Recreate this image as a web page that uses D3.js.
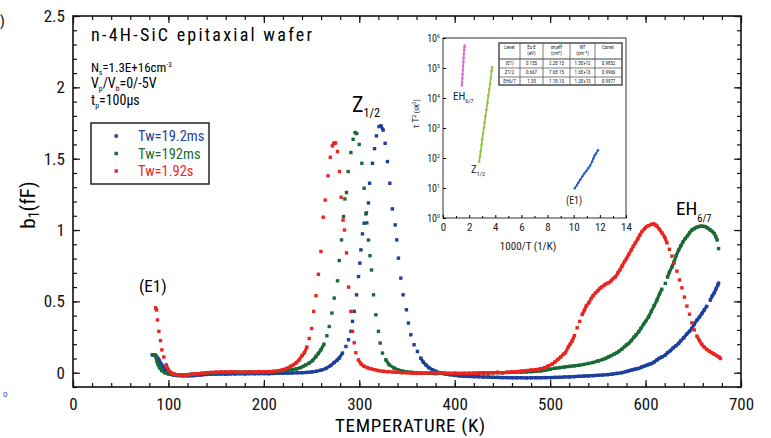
<!DOCTYPE html>
<html>
<head>
<meta charset="utf-8">
<script src="https://cdn.jsdelivr.net/npm/d3@7"></script>
<style>
  body { margin: 0; background: #fff; }
  svg { display: block; }
</style>
</head>
<body>
<div class="chart"></div>
<script>
// series: [temperature K, b1 fF]
var blueData = [[83,0.125],[84.5,0.125],[86,0.12],[87.5,0.115],[89,0.1],[90.5,0.085],[92,0.065],[94.2,0.045],[96,0.025],[97.7,0.009],[100,-0.005],[103,-0.012],[106,-0.017],[110,-0.02],[115,-0.022],[120,-0.022],[125.5,-0.021],[130,-0.018],[135,-0.015],[140,-0.012],[145,-0.01],[150,-0.01],[155,-0.009],[160,-0.01],[165,-0.008],[170,-0.008],[175,-0.007],[180,-0.008],[185,-0.006],[190,-0.007],[195,-0.006],[200,-0.006],[205,-0.007],[210,-0.005],[215,-0.004],[220,-0.004],[225,-0.002],[230,-0.002],[235,0],[240,0],[245,0.002],[250,0.005],[255,0.01],[260,0.018],[265,0.03],[270,0.05],[273.7,0.072],[277,0.09],[279,0.103],[282.4,0.138],[286,0.184],[288.7,0.231],[291.2,0.29],[292.9,0.36],[294.7,0.43],[297.1,0.546],[299.2,0.674],[300.6,0.768],[301.7,0.861],[303.3,0.973],[305.1,1.048],[307.5,1.12],[309.6,1.19],[310.8,1.328],[313.8,1.468],[316,1.57],[318,1.66],[320.7,1.725],[322.8,1.73],[325,1.7],[327.1,1.608],[329.5,1.48],[332,1.328],[334.7,1.148],[337.6,1.036],[339.3,0.931],[341,0.803],[343.5,0.663],[345.9,0.546],[349.4,0.441],[351.5,0.348],[354,0.266],[357.4,0.196],[360.9,0.149],[364.4,0.103],[367,0.075],[369.7,0.056],[373,0.035],[376.6,0.021],[380,0.01],[385,0],[390,-0.008],[395,-0.014],[400,-0.018],[405,-0.022],[410,-0.025],[415,-0.026],[420,-0.027],[425,-0.028],[430,-0.03],[435,-0.03],[440,-0.032],[445,-0.033],[450,-0.034],[455,-0.034],[460,-0.035],[465,-0.035],[470,-0.035],[475,-0.036],[480,-0.035],[485,-0.035],[490,-0.035],[495,-0.034],[500,-0.034],[505,-0.033],[510,-0.032],[515,-0.03],[520,-0.029],[525,-0.027],[530,-0.025],[535,-0.024],[540,-0.022],[545,-0.02],[550,-0.018],[555,-0.016],[560,-0.013],[565,-0.01],[570,-0.005],[575,0],[578.9,0.007],[582,0.013],[585,0.018],[588,0.023],[590,0.027],[592.8,0.03],[596,0.04],[599,0.047],[602,0.055],[604,0.06],[606.7,0.065],[609,0.075],[612,0.09],[614,0.1],[617,0.11],[620.7,0.124],[623,0.14],[626,0.155],[629,0.175],[632,0.19],[634.6,0.205],[637,0.225],[640,0.245],[643,0.27],[646,0.29],[648.5,0.31],[651,0.34],[654,0.37],[656.5,0.39],[659,0.415],[661.5,0.44],[664,0.465],[667.8,0.509],[670,0.54],[672,0.56],[674,0.59],[675.7,0.614],[676.5,0.628]];

var greenData = [[84.7,0.125],[86,0.125],[87,0.11],[88,0.08],[89,0.06],[90.7,0.035],[93,0.015],[96,0],[100,-0.008],[105,-0.012],[110,-0.015],[115,-0.015],[120,-0.013],[125,-0.01],[130,-0.008],[135,-0.005],[140,-0.003],[145,0],[150,0],[155,0.002],[160,0.003],[165,0.002],[170,0.004],[175,0.005],[180,0.003],[185,0.002],[190,0.004],[195,0.003],[200,0.004],[205,0.005],[210,0.007],[215,0.01],[220,0.015],[225,0.018],[230,0.022],[234,0.026],[238,0.035],[241,0.044],[244,0.055],[247.5,0.068],[251,0.085],[254.6,0.114],[257,0.135],[259.8,0.161],[263,0.2],[266,0.259],[268.5,0.324],[271.3,0.418],[273.7,0.523],[277.2,0.644],[279,0.786],[281.4,0.931],[283.5,1.095],[284.9,1.218],[286.6,1.263],[288.4,1.41],[291.2,1.543],[293.6,1.636],[295.5,1.683],[297.3,1.676],[299.9,1.6],[302.7,1.468],[305.1,1.293],[306.9,1.113],[307.9,1.05],[309.6,0.93],[311.2,0.82],[312.8,0.72],[314.9,0.546],[317.4,0.406],[320.1,0.29],[321.9,0.208],[324.3,0.138],[327.8,0.091],[331.3,0.056],[336.5,0.033],[340,0.022],[345,0.012],[350,0.006],[355,0.003],[360,0],[365,-0.002],[370,-0.004],[375,-0.005],[380,-0.006],[385,-0.005],[390,-0.006],[395,-0.007],[400,-0.006],[405,-0.006],[410,-0.005],[415,-0.004],[420,-0.005],[425,-0.003],[430,-0.002],[435,-0.001],[440,0],[445,0.001],[450,0],[455,0.002],[460,0.003],[465,0.004],[470,0.004],[475,0.006],[480,0.008],[485,0.01],[490,0.013],[495,0.018],[500,0.024],[505,0.031],[510,0.036],[515,0.04],[520,0.044],[525,0.048],[530,0.052],[535,0.058],[540,0.065],[545,0.072],[550,0.082],[555,0.093],[558,0.1],[561,0.11],[564,0.12],[567,0.13],[570,0.14],[572,0.15],[575,0.165],[578,0.183],[580,0.195],[582.3,0.205],[585,0.225],[588,0.25],[590,0.265],[592.8,0.287],[595,0.31],[598,0.34],[600,0.36],[603.2,0.392],[606,0.43],[609,0.47],[611.9,0.509],[614.5,0.55],[617,0.585],[620.7,0.626],[623,0.67],[625,0.705],[627.6,0.742],[630,0.78],[632,0.82],[634.6,0.859],[637,0.89],[639,0.915],[641.6,0.941],[644,0.96],[646,0.98],[648.5,1],[651,1.01],[653,1.018],[655.5,1.024],[658,1.027],[660,1.026],[662.5,1.024],[665,1.015],[667.8,1],[670,0.99],[672,0.975],[673.5,0.955],[675,0.93],[676.5,0.87]];

var redData = [[86.5,0.455],[87.6,0.44],[88.5,0.37],[90,0.29],[91.7,0.225],[93.1,0.16],[95.2,0.11],[97.7,0.056],[100,0.02],[103,0],[106,-0.01],[110,-0.015],[115,-0.017],[120,-0.015],[125,-0.01],[130,-0.008],[135,-0.005],[140,0],[145,0.002],[150,0.004],[155,0.005],[160,0.004],[165,0.006],[170,0.005],[175,0.003],[180,0.005],[185,0.006],[190,0.004],[195,0.008],[200,0.006],[205,0.008],[210,0.01],[215,0.014],[220,0.022],[224,0.03],[228,0.045],[231,0.055],[234,0.07],[237,0.09],[240,0.12],[242.5,0.14],[245,0.18],[247.5,0.24],[250,0.31],[252.2,0.43],[254.6,0.54],[257.2,0.69],[259.8,0.85],[262.2,1.09],[264.3,1.21],[267.3,1.38],[269.6,1.51],[271.8,1.59],[273.6,1.61],[275.2,1.61],[277.2,1.55],[279.3,1.41],[281,1.23],[283,1.07],[284.5,1],[286.6,0.84],[288.8,0.6],[291.2,0.43],[292.9,0.29],[294.7,0.21],[296.4,0.14],[299,0.09],[302,0.06],[305,0.045],[308.6,0.035],[312,0.028],[316,0.022],[320,0.015],[325,0.01],[330,0.008],[335,0.005],[340,0.003],[345,0],[350,0],[355,-0.003],[360,-0.004],[365,-0.003],[370,-0.002],[375,0],[380,0],[385,0],[390,-0.002],[395,-0.004],[400,-0.003],[405,-0.005],[410,-0.005],[415,-0.006],[420,-0.004],[425,-0.003],[430,-0.002],[435,0],[440,0],[445,0.002],[450,0],[455,0.003],[460,0.006],[465,0.008],[470,0.012],[475,0.015],[480,0.019],[485,0.022],[490,0.028],[494,0.035],[498,0.047],[502,0.06],[505,0.075],[508,0.093],[511,0.11],[514,0.13],[516,0.14],[519,0.18],[521,0.2],[523,0.222],[525.5,0.26],[528.3,0.315],[531,0.36],[533.5,0.408],[536,0.44],[538,0.47],[540.5,0.49],[543,0.52],[545,0.54],[547.5,0.56],[550,0.575],[552,0.59],[554.4,0.602],[557,0.615],[559,0.625],[561.4,0.63],[564,0.645],[566,0.66],[568.4,0.672],[571,0.7],[573,0.72],[575.3,0.747],[578,0.78],[580,0.8],[582.3,0.829],[585,0.86],[587,0.885],[589.3,0.91],[592,0.94],[594,0.965],[596.3,0.99],[599,1.01],[601,1.025],[603.2,1.031],[606,1.04],[608.5,1.043],[610.5,1.035],[612,1.027],[614.5,1.005],[617.2,0.98],[620,0.95],[622.4,0.91],[625,0.865],[627.6,0.817],[630,0.77],[632.8,0.712],[635.5,0.65],[638.1,0.595],[640.7,0.53],[643.3,0.467],[646,0.41],[648.5,0.35],[651,0.3],[653.8,0.257],[656.5,0.225],[659,0.198],[661.5,0.18],[664.2,0.163],[667,0.15],[669.5,0.14],[672,0.13],[674.5,0.12],[677,0.11],[678.5,0.1]];

var legendLabels = ["Tw=19.2ms", "Tw=192ms", "Tw=1.92s"];
var seriesColors = ["#1d3f9e", "#1b6a36", "#ec2420"];
var xTicks = [0, 100, 200, 300, 400, 500, 600, 700];
var yTicks = [0, 0.5, 1, 1.5, 2, 2.5];

// inset: arrhenius plot, [1000/T, tau*T^2]
var insetEH = [[1.44,2.6e4],[1.46,3.3e4],[1.48,4.5e4],[1.5,6.2e4],[1.52,8.5e4],[1.54,1.15e5],[1.56,1.6e5],[1.58,2.2e5],[1.6,3.0e5],[1.62,3.9e5],[1.64,4.8e5],[1.66,5.6e5]];
var insetZ = [[2.77,76],[2.82,110],[2.88,165],[2.95,280],[3.0,420],[3.06,640],[3.12,1000],[3.18,1500],[3.25,2500],[3.32,4000],[3.4,7000],[3.47,1.2e4],[3.54,1.9e4],[3.6,3.0e4],[3.66,4.8e4],[3.72,8.0e4],[3.75,1.05e5]];
var insetE1 = [[10.08,9.8],[10.25,12.5],[10.35,15],[10.5,19],[10.65,24],[10.8,30],[10.95,36],[11.1,45],[11.25,55],[11.4,75],[11.5,95],[11.6,120],[11.7,140],[11.85,180]];
var insetXTicks = [0, 2, 4, 6, 8, 10, 12, 14];
var insetYTicks = [1, 10, 100, 1e3, 1e4, 1e5, 1e6];
var tableHead = [["Level"], ["Ec-E", "(eV)"], ["\u03c3n,eff", "(cm\u00b2)"], ["NT", "(cm\u207b\u00b3)"], ["Correl."]];
var tableRows = [
  ["(E1)", "0.155", "2.2E-15", "1.3E+12", "0.9852"],
  ["Z1/2", "0.667", "7.6E-15", "1.6E+13", "0.9966"],
  ["EH6/7", "1.35", "1.1E-15", "1.2E+13", "0.9977"]
];

var svgWidth = 771;
var svgHeight = 438;
var NARROW = "'Liberation Sans Narrow', 'Arial Narrow', 'Roboto Condensed', sans-serif";

var margin = { top: 16, right: 30, bottom: 51, left: 73 };
var width = svgWidth - margin.left - margin.right;
var height = svgHeight - margin.top - margin.bottom;

var svg = d3.select(".chart")
  .append("svg")
  .attr("width", svgWidth)
  .attr("height", svgHeight)
  .style("font-family", NARROW);

var chartGroup = svg.append("g")
  .attr("transform", `translate(${margin.left}, ${margin.top})`);

var xScale = d3.scaleLinear().domain([0, 700]).range([0, width]);
var yScale = d3.scaleLinear().domain([-0.1, 2.5]).range([height, 0]);

// axes: ticks point inward on all four sides
function styleAxis(g) {
  g.select(".domain").remove();
  g.selectAll(".tick line").attr("stroke", "#111").attr("stroke-width", 1.2);
  g.selectAll("text").attr("fill", "#111").style("font-family", NARROW).style("font-size", "17px");
}

chartGroup.append("g").attr("transform", `translate(0, ${height})`)
  .call(d3.axisBottom(xScale).tickValues(d3.range(0, 701, 20)).tickSize(-4).tickFormat(""))
  .call(styleAxis);
chartGroup.append("g").attr("transform", `translate(0, ${height})`)
  .call(d3.axisBottom(xScale).tickValues(xTicks).tickSize(-7).tickPadding(11).tickFormat(d3.format("d")))
  .call(styleAxis);
chartGroup.append("g")
  .call(d3.axisTop(xScale).tickValues(d3.range(0, 701, 20)).tickSize(-4).tickFormat(""))
  .call(styleAxis);
chartGroup.append("g")
  .call(d3.axisTop(xScale).tickValues(xTicks).tickSize(-7).tickFormat(""))
  .call(styleAxis);

chartGroup.append("g")
  .call(d3.axisLeft(yScale).tickValues(d3.range(-0.1, 2.51, 0.1)).tickSize(-4).tickFormat(""))
  .call(styleAxis);
chartGroup.append("g")
  .call(d3.axisLeft(yScale).tickValues(yTicks).tickSize(-7).tickPadding(8).tickFormat(d => d === 0 ? "0" : d3.format(".1~f")(d)))
  .call(styleAxis);
chartGroup.append("g").attr("transform", `translate(${width}, 0)`)
  .call(d3.axisRight(yScale).tickValues(d3.range(-0.1, 2.51, 0.1)).tickSize(-4).tickFormat(""))
  .call(styleAxis);
chartGroup.append("g").attr("transform", `translate(${width}, 0)`)
  .call(d3.axisRight(yScale).tickValues(yTicks).tickSize(-7).tickFormat(""))
  .call(styleAxis);

chartGroup.append("rect")
  .attr("width", width).attr("height", height)
  .attr("fill", "none").attr("stroke", "#111").attr("stroke-width", 1.6);

// axis titles
svg.append("text")
  .attr("x", 410).attr("y", 432)
  .attr("text-anchor", "middle")
  .attr("textLength", 150)
  .style("font-size", "19px")
  .text("TEMPERATURE (K)");

var yTitle = svg.append("text")
  .attr("transform", "translate(35, 205) rotate(-90)")
  .attr("text-anchor", "middle")
  .style("font-size", "21px");
yTitle.append("tspan").text("b");
yTitle.append("tspan").attr("dy", 4).style("font-size", "14px").text("1");
yTitle.append("tspan").attr("dy", -4).text("(fF)");

// stray marks at the left edge of the scan
svg.append("text").attr("x", 0).attr("y", 26).style("font-size", "15px").text(")");
svg.append("text").attr("x", 3).attr("y", 397).attr("fill", "#3344ee").style("font-size", "9px").text("o");

// series: dots, joined where they sit close together
function drawSeries(data, color) {
  var pts = data.map(d => [xScale(d[0]), yScale(d[1])]);
  var segs = [];
  for (var i = 1; i < pts.length; i++) {
    var dx = pts[i][0] - pts[i - 1][0], dy = pts[i][1] - pts[i - 1][1];
    if (Math.sqrt(dx * dx + dy * dy) < 6.5) segs.push([pts[i - 1], pts[i]]);
  }
  chartGroup.append("g").selectAll("line")
    .data(segs).enter().append("line")
    .attr("x1", d => d[0][0]).attr("y1", d => d[0][1])
    .attr("x2", d => d[1][0]).attr("y2", d => d[1][1])
    .attr("stroke", color).attr("stroke-width", 3.2);
  chartGroup.append("g").selectAll("rect")
    .data(data).enter().append("rect")
    .attr("x", d => xScale(d[0]) - 1.7)
    .attr("y", d => yScale(d[1]) - 1.7)
    .attr("width", 3.4).attr("height", 3.4)
    .attr("fill", color);
}
drawSeries(blueData, seriesColors[0]);
drawSeries(greenData, seriesColors[1]);
drawSeries(redData, seriesColors[2]);

// sample description
function richText(x, y, size, parts, sub) {
  sub = sub || 3;
  var t = svg.append("text").attr("x", x).attr("y", y).style("font-size", size + "px");
  var off = 0;
  parts.forEach(function(p) {
    var target = p[1] === "sub" ? sub : p[1] === "sup" ? -5 : 0;
    t.append("tspan")
      .attr("dy", target - off)
      .style("font-size", (p[1] ? size * 0.55 : size) + "px")
      .text(p[0]);
    off = target;
  });
  return t;
}
svg.append("text").attr("x", 91).attr("y", 41)
  .attr("textLength", 221).style("font-size", "18px")
  .text("n-4H-SiC epitaxial wafer");
richText(91, 72, 13, [["N"], ["s", "sub"], ["=1.3E+16cm"], ["-3", "sup"]]);
richText(91, 88, 14, [["V"], ["p", "sub"], ["/V"], ["b", "sub"], ["=0/-5V"]]);
richText(91, 105, 14, [["t"], ["p", "sub"], ["=100\u03bcs"]]);

// peak labels
richText(352, 112, 22, [["Z"], ["1/2", "sub"]], 5);
richText(676, 215, 19, [["EH"], ["6/7", "sub"]], 7);
svg.append("text").attr("x", 139).attr("y", 292).style("font-size", "17px").text("(E1)");

// legend
var legend = svg.append("g");
legend.append("rect")
  .attr("x", 91).attr("y", 123).attr("width", 118).attr("height", 61)
  .attr("fill", "#fff").attr("stroke", "#222").attr("stroke-width", 1.5);
legendLabels.forEach(function(lab, i) {
  var cy = 136 + i * 17.5;
  legend.append("rect").attr("x", 114.5).attr("y", cy - 1.7).attr("width", 3.4).attr("height", 3.4).attr("fill", seriesColors[i]);
  legend.append("text").attr("x", 138).attr("y", cy + 5)
    .attr("fill", seriesColors[i]).style("font-size", "14.5px").text(lab);
});

// inset
var ix = d3.scaleLinear().domain([0, 14]).range([443, 626]);
var iy = d3.scaleLog().domain([1, 1e6]).range([218, 38]);
var inset = svg.append("g").style("font-family", NARROW);
inset.append("rect")
  .attr("x", 443).attr("y", 38).attr("width", 183).attr("height", 180)
  .attr("fill", "#fff").attr("stroke", "#333").attr("stroke-width", 1);

var ixAxis = inset.append("g").attr("transform", "translate(0,218)")
  .call(d3.axisBottom(ix).tickValues(insetXTicks).tickSize(-3).tickPadding(5));
ixAxis.select(".domain").remove();
ixAxis.selectAll("text").style("font-size", "11px").style("font-family", NARROW).attr("fill", "#222");
inset.append("g").attr("transform", "translate(0,218)")
  .call(d3.axisBottom(ix).tickValues(d3.range(1, 14, 2)).tickSize(-2).tickFormat(""))
  .select(".domain").remove();

var iyAxis = inset.append("g").attr("transform", "translate(443,0)")
  .call(d3.axisLeft(iy).tickValues(insetYTicks).tickSize(-3).tickFormat(""));
iyAxis.select(".domain").remove();
insetYTicks.forEach(function(v) {
  var t = inset.append("text").attr("x", 440).attr("y", iy(v) + 4)
    .attr("text-anchor", "end").style("font-size", "10px").attr("fill", "#222");
  t.append("tspan").text("10");
  t.append("tspan").attr("dy", -4).style("font-size", "6px").text(Math.round(Math.log10(v)));
});

inset.append("text").attr("x", 528).attr("y", 250)
  .attr("text-anchor", "middle").style("font-size", "11px").attr("fill", "#222")
  .text("1000/T  (1/K)");
var iyTitle = inset.append("text")
  .attr("transform", "translate(419,114) rotate(-90)")
  .attr("text-anchor", "middle").style("font-size", "9px").attr("fill", "#222");
iyTitle.append("tspan").text("\u03c4 T");
iyTitle.append("tspan").attr("dy", -3).style("font-size", "6px").text("2");
iyTitle.append("tspan").attr("dy", 3).style("font-size", "7px").text("  (sK");
iyTitle.append("tspan").attr("dy", -3).style("font-size", "5px").text("2");
iyTitle.append("tspan").attr("dy", 3).style("font-size", "7px").text(")");

function drawInset(data, color) {
  inset.append("path").datum(data)
    .attr("d", d3.line().x(d => ix(d[0])).y(d => iy(d[1])))
    .attr("fill", "none").attr("stroke", color).attr("stroke-width", 1.6);
  inset.append("g").selectAll("circle").data(data).enter().append("circle")
    .attr("cx", d => ix(d[0])).attr("cy", d => iy(d[1])).attr("r", 1.3)
    .attr("fill", color);
}
drawInset(insetEH, "#d66fd0");
drawInset(insetZ, "#8cc63f");
drawInset(insetE1, "#2a5cc4");

richText(453, 100, 11, [["EH"], ["6/7", "sub"]]).attr("fill", "#222");
richText(471, 173, 11, [["Z"], ["1/2", "sub"]]).attr("fill", "#222");
inset.append("text").attr("x", 566).attr("y", 204).style("font-size", "10px").attr("fill", "#222").text("(E1)");

// inset table
var colX = [499, 520, 543, 570, 595, 622];
var rowY = [43, 59, 68, 77, 85];
var table = inset.append("g");
table.append("rect").attr("x", colX[0]).attr("y", rowY[0])
  .attr("width", colX[5] - colX[0]).attr("height", rowY[4] - rowY[0])
  .attr("fill", "#fff").attr("stroke", "#222").attr("stroke-width", 1.2);
colX.slice(1, 5).forEach(function(cx) {
  table.append("line").attr("x1", cx).attr("x2", cx).attr("y1", rowY[0]).attr("y2", rowY[4])
    .attr("stroke", "#444").attr("stroke-width", 0.7);
});
rowY.slice(1, 4).forEach(function(ry, i) {
  table.append("line").attr("x1", colX[0]).attr("x2", colX[5]).attr("y1", ry).attr("y2", ry)
    .attr("stroke", "#444").attr("stroke-width", i === 0 ? 1.2 : 0.7);
});
tableHead.forEach(function(lines, c) {
  lines.forEach(function(s, k) {
    table.append("text").attr("x", (colX[c] + colX[c + 1]) / 2).attr("y", rowY[0] + 6 + k * 6)
      .attr("text-anchor", "middle").style("font-size", "5px").attr("fill", "#222").text(s);
  });
});
tableRows.forEach(function(row, r) {
  row.forEach(function(s, c) {
    table.append("text").attr("x", (colX[c] + colX[c + 1]) / 2).attr("y", rowY[r + 1] + 6.3)
      .attr("text-anchor", "middle").style("font-size", "5px").attr("fill", "#222").text(s);
  });
});
</script>
</body>
</html>
